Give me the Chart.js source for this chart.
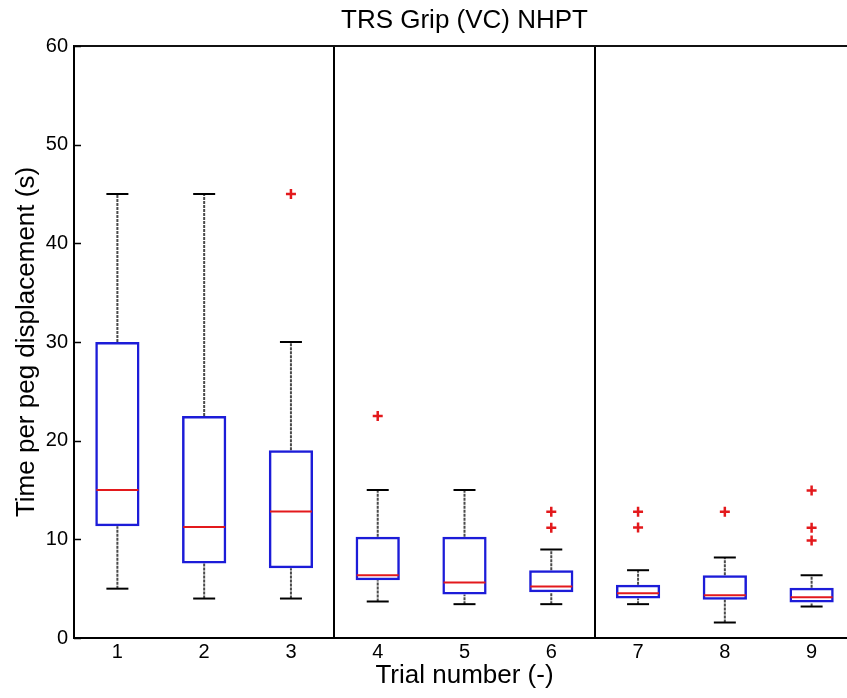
<!DOCTYPE html>
<html>
<head>
<meta charset="utf-8">
<script src="https://cdn.jsdelivr.net/npm/chart.js@4/dist/chart.umd.min.js"></script>
<style>
  html, body { margin: 0; padding: 0; background: #fff; overflow: hidden; }
  #wrap { width: 847px; height: 698px; overflow: hidden; position: relative; }
  canvas { display: block; }
</style>
</head>
<body>
<div id="wrap"><canvas id="c" width="880" height="698" style="width:880px;height:698px"></canvas></div>
<script>
// ---- data ----
const chartTitle = 'TRS Grip (VC) NHPT';
const xTitle = 'Trial number (-)';
const yTitle = 'Time per peg displacement (s)';
const categories = ['1', '2', '3', '4', '5', '6', '7', '8', '9'];
const q1 = [11.33, 7.55, 7.07, 5.86, 4.41, 4.64, 4.0, 3.87, 3.6];
const q3 = [30, 22.5, 19.03, 10.26, 10.26, 6.87, 5.39, 6.36, 5.09];
const medians = [15, 11.25, 12.82, 6.36, 5.62, 5.22, 4.54, 4.34, 4.14];
const lowerWhisker = [5, 4, 4, 3.7, 3.43, 3.43, 3.43, 1.57, 3.19];
const upperWhisker = [45, 45, 30, 15, 15, 8.97, 6.87, 8.16, 6.36];
const outliers = [[], [], [45], [22.5], [], [12.79, 11.17], [12.79, 11.2], [12.79], [14.95, 11.17, 9.88]];
const yTicks = [0, 10, 20, 30, 40, 50, 60];
const separatorsAfter = [3, 6]; // group boundaries (category index)

// ---- styles / layout targets ----
const FONT = '"Liberation Sans", Arial, Helvetica, sans-serif';
const BLUE = '#1c1cd8';
const RED = '#e3191c';
const BLACK = '#000000';
const AREA = { left: 74, right: 855, top: 46, bottom: 638 };
Chart.defaults.font.family = FONT;
Chart.defaults.color = BLACK;

// ---- derived datasets ----
const boxData = categories.map((c, i) => [q1[i], q3[i]]);
const whiskerData = [];
categories.forEach((c, i) => {
  whiskerData.push({x: c, y: q3[i]}, {x: c, y: upperWhisker[i]}, {x: c, y: null});
  whiskerData.push({x: c, y: lowerWhisker[i]}, {x: c, y: q1[i]}, {x: c, y: null});
});
const capData = [];
categories.forEach((c, i) => {
  capData.push({x: c, y: upperWhisker[i]}, {x: c, y: lowerWhisker[i]});
});
const outlierData = [];
categories.forEach((c, i) => outliers[i].forEach(v => outlierData.push({x: c, y: v})));

const decorations = {
  id: 'decorations',
  afterDraw(chart) {
    const {ctx, chartArea: a, scales} = chart;
    const y = scales.y;
    ctx.save();
    ctx.strokeStyle = '#111';
    ctx.lineWidth = 2;
    ctx.beginPath();
    ctx.moveTo(a.left, a.top);
    ctx.lineTo(a.right, a.top);
    ctx.lineTo(a.right, a.bottom);
    ctx.stroke();
    ctx.lineWidth = 1.5;
    ctx.strokeStyle = BLACK;
    yTicks.forEach(v => {
      const py = Math.round(y.getPixelForValue(v)) + 0.5;
      ctx.beginPath();
      ctx.moveTo(a.left, py); ctx.lineTo(a.left + 7, py);
      ctx.moveTo(a.right, py); ctx.lineTo(a.right - 7, py);
      ctx.stroke();
    });
    ctx.fillStyle = BLACK;
    ctx.font = '26px ' + FONT;
    ctx.textAlign = 'center';
    ctx.textBaseline = 'alphabetic';
    ctx.fillText(chartTitle, (a.left + a.right) / 2, 28);
    ctx.restore();
  }
};

function makeConfig() {
  return {
    type: 'bar',
    data: {
      labels: categories,
      datasets: [
        { type: 'line', label: 'outliers', data: outlierData, showLine: false,
          pointStyle: 'cross', pointRadius: 5, pointBorderWidth: 2.5,
          pointBorderColor: RED, pointBackgroundColor: RED, order: 0 },
        { type: 'line', label: 'median', data: medians, showLine: false,
          pointStyle: 'line', pointRadius: 21, pointBorderWidth: 2,
          pointBorderColor: RED, order: 1 },
        { type: 'line', label: 'caps', data: capData, showLine: false,
          pointStyle: 'line', pointRadius: 11, pointBorderWidth: 2,
          pointBorderColor: BLACK, order: 2 },
        { type: 'bar', label: 'box', data: boxData,
          backgroundColor: 'rgba(255,255,255,0)', borderColor: BLUE, borderWidth: 2.5,
          borderSkipped: false, barPercentage: 0.51, categoryPercentage: 1, order: 3 },
        { type: 'line', label: 'whiskers', data: whiskerData, spanGaps: false,
          borderColor: '#4a4a4a', borderWidth: 2, borderDash: [3, 1], pointRadius: 0,
          fill: false, order: 4 }
      ]
    },
    options: {
      responsive: false,
      animation: false,
      events: [],
      layout: { padding: { top: AREA.top, right: 0, left: 0, bottom: 0 } },
      plugins: { legend: { display: false }, tooltip: { enabled: false }, title: { display: false } },
      scales: {
        x: {
          type: 'category', offset: true,
          grid: { offset: true, drawTicks: false, lineWidth: 2,
            color: ctx => separatorsAfter.includes(ctx.index) ? BLACK : 'rgba(0,0,0,0)' },
          border: { display: true, color: BLACK, width: 2 },
          ticks: { color: BLACK, font: { size: 20 }, padding: 2, maxRotation: 0 },
          title: { display: true, text: xTitle, color: BLACK, font: { size: 26 }, padding: { top: 0, bottom: 7 } },
          afterFit: s => { s.height = 698 - AREA.bottom; }
        },
        y: {
          type: 'linear', min: 0, max: 60,
          afterBuildTicks: s => { s.ticks = yTicks.map(v => ({value: v})); },
          grid: { display: false, drawTicks: false },
          border: { display: true, color: BLACK, width: 2 },
          ticks: { color: BLACK, font: { size: 20 }, padding: 6 },
          title: { display: true, text: yTitle, color: BLACK, font: { size: 26 }, padding: { top: 11, bottom: 0 } },
          afterFit: s => { s.width = AREA.left; }
        }
      }
    },
    plugins: [decorations]
  };
}

// Build the chart; widen the (clipped) canvas until the plot area's right edge
// lands where the reference's does (the reference crops the right border off).
const canvas = document.getElementById('c');
let chart = new Chart(canvas, makeConfig());
for (let k = 0; k < 3; k++) {
  const diff = AREA.right - chart.chartArea.right;
  if (Math.abs(diff) < 0.5) break;
  const w = Math.round(canvas.width + diff);
  chart.destroy();
  canvas.width = w;
  canvas.height = 698;
  canvas.style.width = w + 'px';
  canvas.style.height = '698px';
  chart = new Chart(canvas, makeConfig());
}
</script>
</body>
</html>
